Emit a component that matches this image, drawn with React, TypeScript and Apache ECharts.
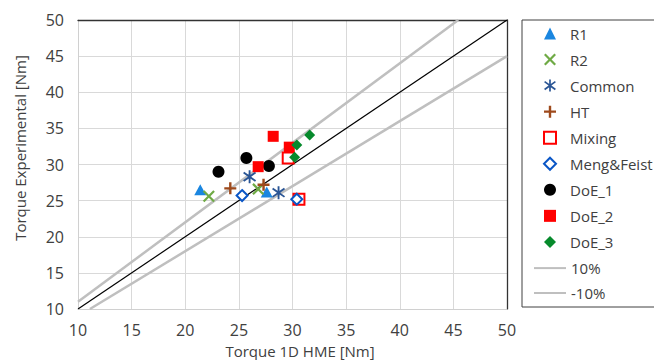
import React, { useEffect, useRef } from "react";
import * as echarts from "echarts";

const r1 = [[21.4, 26.5], [27.6, 26.2]];
const r2 = [[22.2, 25.6], [26.8, 26.6]];
const common = [[26.0, 28.3], [28.7, 26.1]];
const ht = [[24.2, 26.7], [27.3, 27.2]];
const mixing = [[29.6, 30.9], [30.6, 25.2]];
const mengFeist = [[25.3, 25.7], [30.4, 25.2]];
const doe1 = [[23.1, 29.0], [25.7, 30.9], [27.8, 29.8]];
const doe2 = [[28.2, 33.9], [29.7, 32.4], [26.8, 29.7]];
const doe3 = [[31.6, 34.1], [30.4, 32.7], [30.2, 31.0]];
const plus10 = [[10, 11], [45.4545, 50]];
const minus10 = [[11.1111, 10], [50, 45]];
const identity = [[10, 10], [50, 50]];

const scatterNames = ["R1", "R2", "Common", "HT", "Mixing", "Meng&Feist", "DoE_1", "DoE_2", "DoE_3"];
const lineNames = ["10%", "-10%"];

const FONT = "'Open Sans', 'Noto Sans', sans-serif";
const TXT = "#404040";

const X_PATH = "path://M1.3,0L5,3.7L8.7,0L10,1.3L6.3,5L10,8.7L8.7,10L5,6.3L1.3,10L0,8.7L3.7,5L0,1.3Z";
const PLUS_PATH = "path://M4,0H6V4H10V6H6V10H4V6H0V4H4Z";
const STAR_PATH =
  "path://M4.3,0H5.7V10H4.3Z M0.9,1.2L5,4.1L9.1,1.2L9.9,2.3L6.2,5L9.9,7.7L9.1,8.8L5,5.9L0.9,8.8L0.1,7.7L3.8,5L0.1,2.3Z";

export default function App() {
  const ref = useRef<HTMLDivElement>(null);
  useEffect(() => {
    if (!ref.current) return;
    const chart = echarts.init(ref.current, undefined, { renderer: "svg" });
    const scatter = (name: string, data: number[][], symbol: string, size: any, color: string, extra: any = {}) => ({
      name,
      type: "scatter",
      data,
      symbol,
      symbolSize: size,
      itemStyle: { color, opacity: 1, ...extra },
      z: 5,
    });
    const lineSeries = (name: string, data: number[][]) => ({
      name,
      type: "line",
      data,
      symbol: "none",
      lineStyle: { color: "#BFBFBF", width: 2.5 },
      itemStyle: { color: "rgba(0,0,0,0)", borderColor: "rgba(0,0,0,0)" },
      z: 2,
    });
    chart.setOption({
      animation: false,
      backgroundColor: "#fff",
      grid: { left: 78, top: 20, right: 147, bottom: 51, containLabel: false },
      xAxis: [
        {
          type: "value",
          min: 10,
          max: 50,
          interval: 5,
          axisLine: { lineStyle: { color: "#D0D0D0", width: 1 } },
          axisTick: { show: false },
          splitLine: { lineStyle: { color: "#D9D9D9", width: 1 } },
          axisLabel: { color: TXT, fontSize: 16, fontFamily: FONT, margin: 13 },
        },
        {
          type: "value",
          position: "top",
          min: 10,
          max: 50,
          interval: 5,
          axisLine: { show: true, lineStyle: { color: "#333", width: 1.3 } },
          axisTick: { show: false },
          splitLine: { show: false },
          axisLabel: { show: false },
        },
      ],
      yAxis: [
        {
          type: "value",
          min: 10,
          max: 50,
          interval: 5,
          axisLine: { show: true, lineStyle: { color: "#D0D0D0", width: 1 } },
          axisTick: { show: false },
          splitLine: { lineStyle: { color: "#D9D9D9", width: 1 } },
          axisLabel: { color: TXT, fontSize: 16, fontFamily: FONT, margin: 14 },
        },
        {
          type: "value",
          position: "right",
          min: 10,
          max: 50,
          interval: 5,
          axisLine: { show: true, lineStyle: { color: "#333", width: 1.3 } },
          axisTick: { show: false },
          splitLine: { show: false },
          axisLabel: { show: false },
        },
      ],
      legend: [
        {
          data: scatterNames,
          orient: "vertical",
          left: 543,
          top: 26,
          padding: 0,
          itemWidth: 12,
          itemHeight: 12,
          itemGap: 11.05,
          textStyle: { color: TXT, fontSize: 15, lineHeight: 12, fontFamily: FONT, padding: [0, 0, 0, 9] },
        },
        {
          data: lineNames,
          orient: "vertical",
          left: 533,
          top: 260.6,
          padding: 0,
          itemWidth: 32,
          itemHeight: 12,
          itemGap: 9.9,
          itemStyle: { color: "rgba(0,0,0,0)", borderColor: "rgba(0,0,0,0)", borderWidth: 0 },
          textStyle: { color: TXT, fontSize: 15, lineHeight: 12, fontFamily: FONT },
        },
      ],
      graphic: [
        {
          type: "rect",
          shape: { x: 522, y: 20, width: 200, height: 287 },
          style: { fill: "none", stroke: "#404040", lineWidth: 1 },
          silent: true,
        },
        {
          type: "text",
          x: 300,
          y: 351,
          style: {
            text: "Torque 1D HME [Nm]",
            fill: TXT,
            font: `15px ${FONT}`,
            textAlign: "center",
            textVerticalAlign: "middle",
          },
        },
        {
          type: "text",
          x: 20,
          y: 148,
          rotation: Math.PI / 2,
          style: {
            text: "Torque Experimental [Nm]",
            fill: TXT,
            font: `15px ${FONT}`,
            textAlign: "center",
            textVerticalAlign: "middle",
          },
        },
      ],
      series: [
        lineSeries("10%", plus10),
        lineSeries("-10%", minus10),
        {
          name: "1:1",
          type: "line",
          data: identity,
          symbol: "none",
          lineStyle: { color: "#000", width: 1.2 },
          z: 3,
        },
        scatter("R1", r1, "triangle", [12, 11], "#1A86E0"),
        scatter("R2", r2, X_PATH, 12, "#6FAA45"),
        scatter("Common", common, STAR_PATH, 13, "#2A5595"),
        scatter("HT", ht, PLUS_PATH, 12, "#9E4A1C"),
        scatter("Mixing", mixing, "emptyRect", 11, "#FF0000", { borderWidth: 2 }),
        scatter("Meng&Feist", mengFeist, "emptyDiamond", 11, "#0A56C6", { borderWidth: 2 }),
        scatter("DoE_1", doe1, "circle", 12, "#000000"),
        scatter("DoE_2", doe2, "rect", 11, "#FF0000"),
        scatter("DoE_3", doe3, "diamond", 11, "#068A2C"),
      ],
    });
    return () => chart.dispose();
  }, []);
  return <div ref={ref} style={{ width: 654, height: 360, position: "absolute", left: 0, top: 0 }} />;
}
